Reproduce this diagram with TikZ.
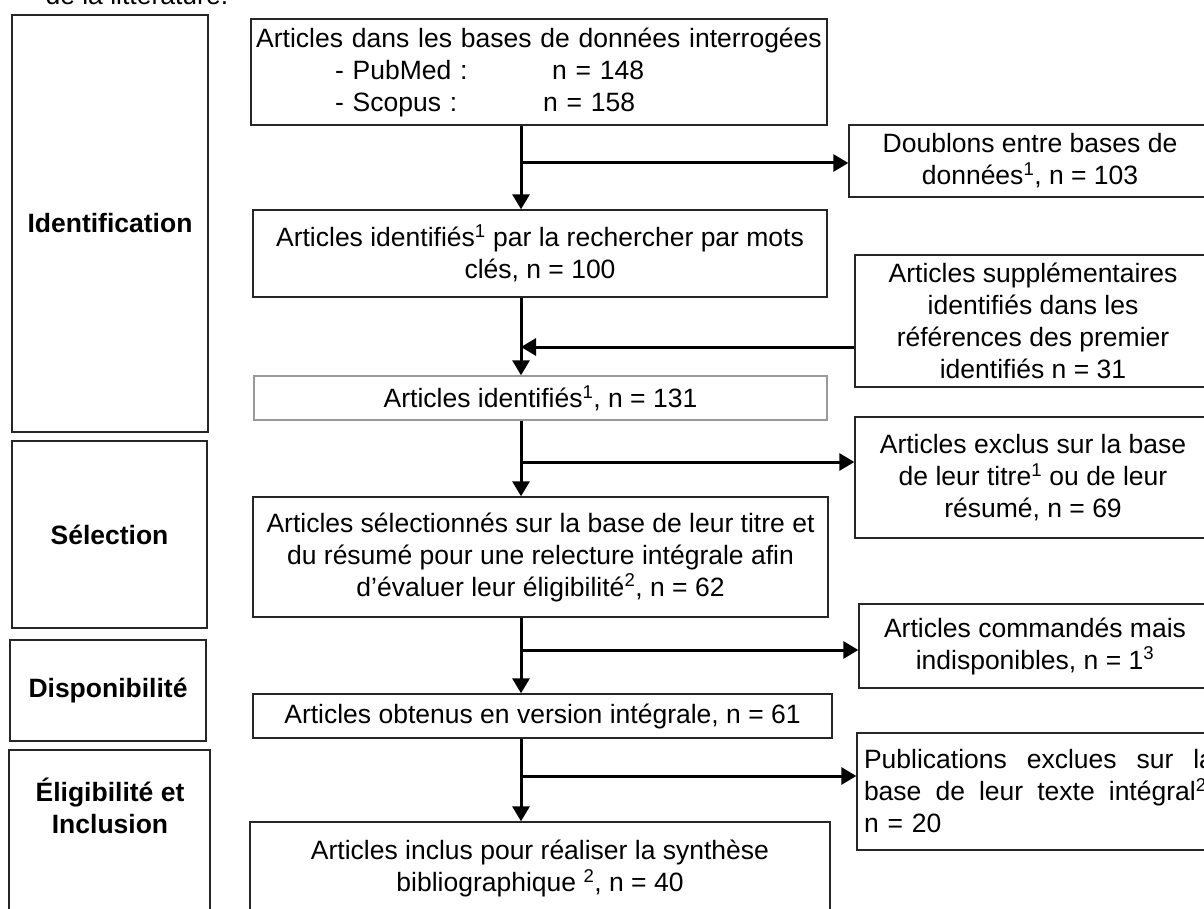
\documentclass[tikz,border=0pt]{standalone}
\usepackage{fontspec}
\setmainfont{Liberation Sans}
\usetikzlibrary{arrows.meta}

\begin{document}
\begin{tikzpicture}[x=1pt, y=-1pt,
    every node/.style={font=\fontsize{26.5}{32}\selectfont},
    stage/.style={draw=black!85, line width=1.4pt, align=center, inner sep=0pt,
                  font=\fontsize{26.5}{32}\selectfont\bfseries},
    stepbox/.style={draw=black!85, line width=1.4pt, align=center, inner sep=0pt},
    flow/.style={line width=3pt, -{Triangle[length=15pt,width=17pt]}}]
    \useasboundingbox (0,0) rectangle (1204,909);
    \clip (0,0) rectangle (1204,909);

    \node (cap) [anchor=base west] at (42,5) {de la littérature.};

    \node (ident) [stage, minimum width=196pt, minimum height=417pt] at (110,223.5) {Identification};
    \node (sel)   [stage, minimum width=195pt, minimum height=187pt] at (109.5,534.5) {Sélection};
    \node (dispo) [stage, minimum width=196pt, minimum height=101pt] at (108,690.5) {Disponibilité};
    \draw [draw=black!85, line width=1.4pt] (9,750) rectangle (210,940);
    \node (elig)  [align=center, font=\fontsize{26.5}{32}\selectfont\bfseries] at (110,806) {Éligibilité et\\Inclusion};

    \node (bases) [stepbox, minimum width=576pt, minimum height=106pt, text width=560pt, align=left] at (539,72)
        {\makebox[560pt][c]{Articles dans les bases de données interrogées}\\
         \hspace*{76pt}\makebox[217pt][l]{- PubMed :}n = 148\\
         \hspace*{76pt}\makebox[208pt][l]{- Scopus :}n = 158};
    \node (ids)   [stepbox, minimum width=574pt, minimum height=87pt] at (540,253.5)
        {Articles identifiés\textsuperscript{1} par la rechercher par mots\\clés, n = 100};
    \node (all)   [stepbox, draw=black!40, minimum width=573pt, minimum height=44pt] at (540.5,398)
        {Articles identifiés\textsuperscript{1}, n = 131};
    \node (chosen) [stepbox, minimum width=575pt, minimum height=120pt] at (540.5,557)
        {Articles sélectionnés sur la base de leur titre et\\du résumé pour une relecture intégrale afin\\d’évaluer leur éligibilité\textsuperscript{2}, n = 62};
    \node (full)  [stepbox, minimum width=579pt, minimum height=44pt] at (542.5,716)
        {Articles obtenus en version intégrale, n = 61};
    \node (incl)  [stepbox, minimum width=580pt, minimum height=93pt] at (540,868.5)
        {Articles inclus pour réaliser la synthèse\\bibliographique \textsuperscript{2}, n = 40};

    \node (dupl)  [stepbox, minimum width=362pt, minimum height=72pt] at (1030,161)
        {Doublons entre bases de\\données\textsuperscript{1}, n = 103};
    \node (extra) [stepbox, minimum width=356pt, minimum height=132pt] at (1033,321)
        {Articles supplémentaires\\identifiés dans les\\références des premier\\identifiés n = 31};
    \node (excl)  [stepbox, minimum width=356pt, minimum height=121pt] at (1033,477.5)
        {Articles exclus sur la base\\de leur titre\textsuperscript{1} ou de leur\\résumé, n = 69};
    \node (miss)  [stepbox, minimum width=352pt, minimum height=84pt] at (1035,646)
        {Articles commandés mais\\indisponibles, n = 1\textsuperscript{3}};
    \node (pub)   [stepbox, minimum width=364pt, minimum height=117pt, text width=350pt, align=left] at (1039,791.5)
        {\makebox[350pt][s]{Publications\hfill exclues\hfill sur\hfill la}\\
         \makebox[350pt][s]{base\hfill de\hfill leur\hfill texte\hfill intégral\textsuperscript{2},}\\
         n = 20};

    \coordinate (j1) at (521,163);
    \coordinate (j2) at (521,347);
    \coordinate (j3) at (521,462);
    \coordinate (j4) at (521,650);
    \coordinate (j5) at (521,776);

    \draw [flow] (bases.south -| j1) -- (ids.north -| j1);
    \draw [flow] (j1) -- (dupl.west |- j1);
    \draw [flow] (ids.south -| j2) -- (all.north -| j2);
    \draw [flow] (extra.west |- j2) -- (j2);
    \draw [flow] (all.south -| j3) -- (chosen.north -| j3);
    \draw [flow] (j3) -- (excl.west |- j3);
    \draw [flow] (chosen.south -| j4) -- (full.north -| j4);
    \draw [flow] (j4) -- (miss.west |- j4);
    \draw [flow] (full.south -| j5) -- (incl.north -| j5);
    \draw [flow] (j5) -- (pub.west |- j5);
\end{tikzpicture}
\end{document}
